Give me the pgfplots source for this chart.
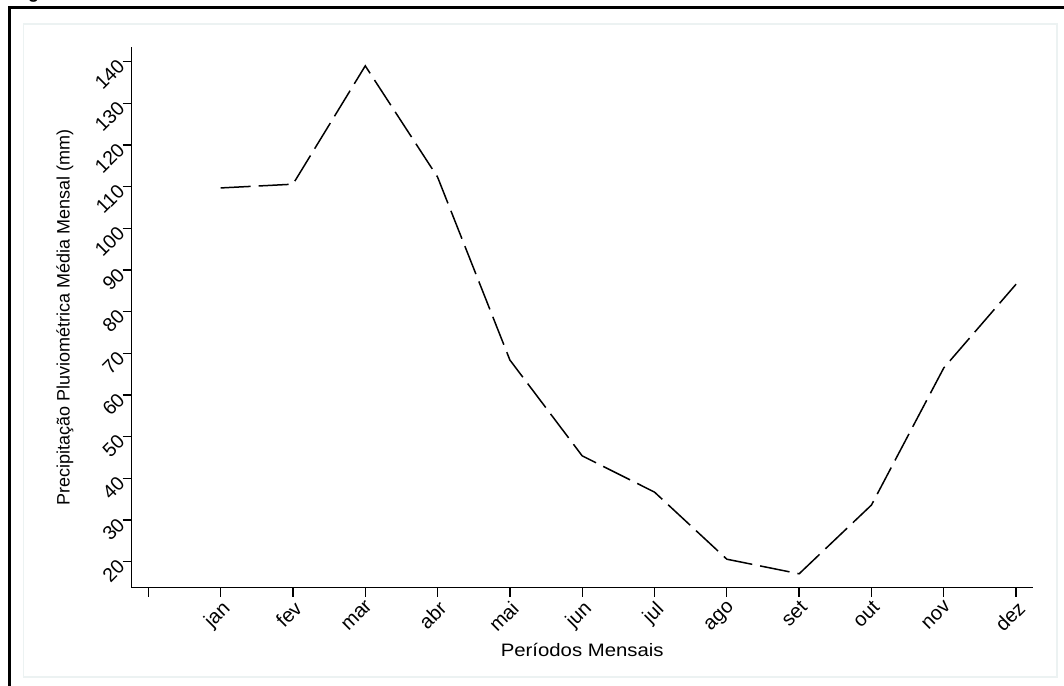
\documentclass[border=0pt]{standalone}
\usepackage{pgfplots}
\pgfplotsset{compat=1.18}
\usepackage{fontspec}
\setmainfont{Liberation Sans}
\definecolor{innerframe}{RGB}{236,242,242}
\pgfplotstableread{
x y
1 109.7
2 110.6
3 139.0
4 112.3
5 68.4
6 45.4
7 36.7
8 20.6
9 17.1
10 33.6
11 66.5
12 86.6
}\chuva
\begin{document}
\begin{tikzpicture}
\useasboundingbox (0,0) rectangle (1064bp,686bp);
% outer frame (extends beyond the picture)
\draw[line width=2.5bp] (9.5bp,-30bp) -- (9.5bp,678.5bp) -- (1100bp,678.5bp);
% inner light frame
\draw[innerframe, line width=1.5bp] (23.5bp,9bp) rectangle (1057bp,662bp);
% clipped title
\node[anchor=base west, inner sep=0pt, font=\fontsize{18bp}{20bp}\selectfont\bfseries] at (12bp,687bp) {Figura 3 -- Série Histórica de 40 anos de Chuvas no Sertão de Pernambuco};
\begin{axis}[
  at={(131.7bp,98.3bp)}, anchor=south west,
  scale only axis,
  width=901bp, height=541bp,
  xmin=-0.23, xmax=12.23,
  ymin=13.76, ymax=143.6,
  axis lines=left,
  axis line style={-, line width=1.3bp, black},
  tick align=outside,
  major tick length=9bp,
  tick style={line width=1.3bp, black},
  xtick={0,1,...,12},
  xticklabels={,jan,fev,mar,abr,mai,jun,jul,ago,set,out,nov,dez},
  ytick={20,30,...,140},
  x tick label style={rotate=45, anchor=north east, font=\fontsize{20bp}{22bp}\selectfont, inner sep=2bp},
  y tick label style={rotate=45, anchor=east, font=\fontsize{19.5bp}{22bp}\selectfont, inner sep=2bp},
  /pgf/number format/assume math mode=true,
  xlabel={\scalebox{1.13}[1]{Períodos Mensais}},
  ylabel={Precipitação Pluviométrica Média Mensal (mm)},
  xlabel style={at={(axis description cs:0.5,0)}, anchor=base, yshift=-69bp, font=\fontsize{18bp}{20bp}\selectfont},
  ylabel style={at={(axis description cs:-0.074,0.5)}, anchor=center, font=\fontsize{18bp}{20bp}\selectfont},
  clip=false,
]
\addplot[black, line width=1.5bp, dash pattern=on 30bp off 8bp, mark=none] table[x=x, y=y] {\chuva};
\end{axis}
\end{tikzpicture}
\end{document}
